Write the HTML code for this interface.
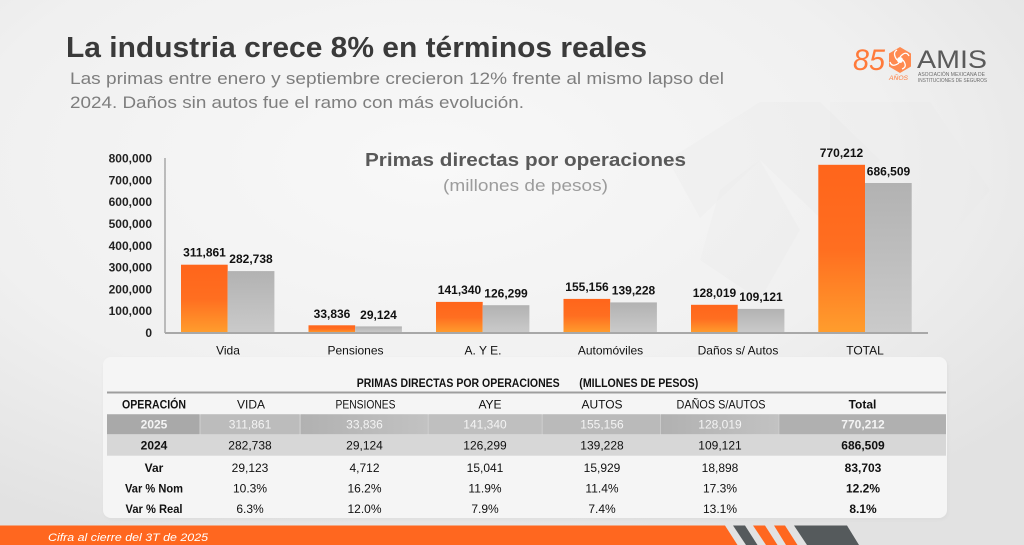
<!DOCTYPE html>
<html><head><meta charset="utf-8"><style>
html,body{margin:0;padding:0;width:1024px;height:545px;overflow:hidden;background:#eeeeee}
svg{display:block}
text{font-family:"Liberation Sans",sans-serif}
</style></head><body>
<svg width="1024" height="545" viewBox="0 0 1024 545" xmlns="http://www.w3.org/2000/svg">
<defs>
<radialGradient id="bg" cx="0.42" cy="0.3" r="0.75">
<stop offset="0" stop-color="#f8f8f8"/>
<stop offset="0.6" stop-color="#f0f0f0"/>
<stop offset="1" stop-color="#e2e2e2"/>
</radialGradient>
<linearGradient id="og" x1="0" y1="0" x2="0" y2="1">
<stop offset="0" stop-color="#ff651b"/>
<stop offset="0.5" stop-color="#ff6e20"/>
<stop offset="1" stop-color="#ff9d2d"/>
</linearGradient>
<linearGradient id="gg" x1="0" y1="0" x2="0" y2="1">
<stop offset="0" stop-color="#b2b2b2"/>
<stop offset="1" stop-color="#cacaca"/>
</linearGradient>
<linearGradient id="cellg" x1="0" y1="0" x2="1" y2="0">
<stop offset="0" stop-color="#b1b1b1"/>
<stop offset="1" stop-color="#c2c2c2"/>
</linearGradient>
<filter id="sh" x="-5%" y="-10%" width="110%" height="120%"><feGaussianBlur stdDeviation="1.5"/></filter>
</defs>
<rect width="1024" height="545" fill="url(#bg)"/>
<!-- faint decorative shapes -->
<polygon points="760,102 820,102 880,160 820,218 760,160 700,218 668,160" fill="#e9e9e9" opacity="0.25"/>
<polygon points="830,102 930,102 990,190 930,260 830,260" fill="#e6e6e6" opacity="0.22"/>
<polygon points="720,190 760,160 800,230 760,300 700,260" fill="#e8e8e8" opacity="0.2"/>

<!-- Title -->
<text x="66" y="57" font-size="29" font-weight="bold" fill="#3a3a3a" textLength="581" lengthAdjust="spacingAndGlyphs">La industria crece 8% en términos reales</text>
<text x="70" y="84" font-size="17" fill="#7e7e7e" textLength="654" lengthAdjust="spacingAndGlyphs">Las primas entre enero y septiembre crecieron 12% frente al mismo lapso del</text>
<text x="70" y="108" font-size="17" fill="#7e7e7e" textLength="454" lengthAdjust="spacingAndGlyphs">2024. Daños sin autos fue el ramo con más evolución.</text>

<!-- Logo -->
<text x="853" y="70" font-family="Liberation Serif,serif" font-style="italic" font-size="30" fill="#ff7a3a" textLength="32" lengthAdjust="spacingAndGlyphs">85</text>
<polygon points="900,47 911,53.5 911,66.5 900,73 889,66.5 889,53.5" fill="#ff8a50"/>
<circle cx="900" cy="60" r="3" fill="#fff"/>
<path d="M900 57 Q906 50 909 56 M903 60 Q908 67 902 69 M899 63 Q892 68 890 62 M897 60 Q892 53 897 50" stroke="#fff" stroke-width="1.3" fill="none"/>
<text x="889" y="80" font-size="6.5" font-style="italic" fill="#ff7a3a" textLength="19" lengthAdjust="spacingAndGlyphs">AÑOS</text>
<text x="917" y="68" font-size="25" fill="#5a5a5a" textLength="70" lengthAdjust="spacingAndGlyphs">AMIS</text>
<text x="918" y="76" font-size="5" fill="#6a6a6a" textLength="67" lengthAdjust="spacingAndGlyphs">ASOCIACIÓN MEXICANA DE</text>
<text x="918" y="82" font-size="5" fill="#6a6a6a" textLength="69" lengthAdjust="spacingAndGlyphs">INSTITUCIONES DE SEGUROS</text>

<!-- Chart title -->
<text x="365" y="166" font-size="18.5" font-weight="bold" fill="#595959" textLength="321" lengthAdjust="spacingAndGlyphs">Primas directas por operaciones</text>
<text x="443" y="191" font-size="17" fill="#9c9c9c" textLength="165" lengthAdjust="spacingAndGlyphs">(millones de pesos)</text>

<!-- Y axis labels -->
<g font-size="12" font-weight="bold" fill="#222" text-anchor="end">
<text x="152" y="162.6">800,000</text>
<text x="152" y="184.4">700,000</text>
<text x="152" y="206.2">600,000</text>
<text x="152" y="228.0">500,000</text>
<text x="152" y="249.8">400,000</text>
<text x="152" y="271.6">300,000</text>
<text x="152" y="293.4">200,000</text>
<text x="152" y="315.2">100,000</text>
<text x="152" y="337.0">0</text>
</g>

<!-- Bars -->
<rect x="181" y="264.7" width="46.7" height="68" fill="url(#og)"/>
<rect x="227.7" y="271.1" width="46.7" height="61.6" fill="url(#gg)"/>
<rect x="308.5" y="325.3" width="46.7" height="7.4" fill="url(#og)"/>
<rect x="355.2" y="326.4" width="46.7" height="6.3" fill="url(#gg)"/>
<rect x="436" y="301.9" width="46.7" height="30.8" fill="url(#og)"/>
<rect x="482.7" y="305.2" width="46.7" height="27.5" fill="url(#gg)"/>
<rect x="563.5" y="298.9" width="46.7" height="33.8" fill="url(#og)"/>
<rect x="610.2" y="302.4" width="46.7" height="30.3" fill="url(#gg)"/>
<rect x="691" y="304.8" width="46.7" height="27.9" fill="url(#og)"/>
<rect x="737.7" y="308.9" width="46.7" height="23.8" fill="url(#gg)"/>
<rect x="818.3" y="164.8" width="46.7" height="167.9" fill="url(#og)"/>
<rect x="865" y="183" width="46.7" height="149.7" fill="url(#gg)"/>

<!-- Axes -->
<line x1="165" y1="158" x2="165" y2="333" stroke="#a8a8a8" stroke-width="1.5"/>
<line x1="165" y1="333" x2="928" y2="333" stroke="#a8a8a8" stroke-width="2"/>

<!-- Value labels -->
<g font-size="12" font-weight="bold" fill="#111" text-anchor="middle">
<text x="204.5" y="256.5">311,861</text>
<text x="251" y="263">282,738</text>
<text x="332" y="318">33,836</text>
<text x="378.5" y="319">29,124</text>
<text x="459.5" y="294">141,340</text>
<text x="506" y="297.5">126,299</text>
<text x="587" y="291">155,156</text>
<text x="633.5" y="294.5">139,228</text>
<text x="714.5" y="297">128,019</text>
<text x="761" y="301">109,121</text>
<text x="841.5" y="157">770,212</text>
<text x="888.5" y="175.5">686,509</text>
</g>

<!-- Category labels -->
<g font-size="12" fill="#111" text-anchor="middle">
<text x="228" y="354.5">Vida</text>
<text x="355.5" y="354.5">Pensiones</text>
<text x="483" y="354.5">A. Y  E.</text>
<text x="610.5" y="354.5">Automóviles</text>
<text x="738" y="354.5">Daños s/ Autos</text>
<text x="865" y="354.5">TOTAL</text>
</g>

<!-- Table card -->
<rect x="104" y="359" width="844" height="161" rx="8" fill="#d8d8d8" opacity="0.6" filter="url(#sh)"/>
<rect x="103" y="357" width="844" height="161" rx="8" fill="#f5f5f5"/>
<text x="356.7" y="387" font-size="11.5" font-weight="bold" fill="#111" textLength="203" lengthAdjust="spacingAndGlyphs">PRIMAS DIRECTAS POR OPERACIONES</text>
<text x="579.3" y="387" font-size="11.5" font-weight="bold" fill="#111" textLength="119" lengthAdjust="spacingAndGlyphs">(MILLONES DE PESOS)</text>
<line x1="107" y1="392.5" x2="946" y2="392.5" stroke="#9e9e9e" stroke-width="2"/>

<!-- header -->
<g font-size="12" fill="#111" text-anchor="middle">
<text x="154" y="408.5" font-weight="bold" textLength="64" lengthAdjust="spacingAndGlyphs">OPERACIÓN</text>
<text x="251" y="408.5">VIDA</text>
<text x="365.5" y="408.5" textLength="60" lengthAdjust="spacingAndGlyphs">PENSIONES</text>
<text x="490" y="408.5">AYE</text>
<text x="602" y="408.5">AUTOS</text>
<text x="721" y="408.5" textLength="89" lengthAdjust="spacingAndGlyphs">DAÑOS S/AUTOS</text>
<text x="862.5" y="408.5" font-weight="bold">Total</text>
</g>

<!-- 2025 row -->
<rect x="107" y="414.3" width="839" height="20" fill="#cfcfcf"/>
<rect x="107" y="414.3" width="92.5" height="20" fill="#a9a9a9"/>
<rect x="200.5" y="414.3" width="99" height="20" fill="#bcbcbc"/>
<rect x="300.7" y="414.3" width="127" height="20" fill="url(#cellg)"/>
<rect x="428.7" y="414.3" width="113" height="20" fill="#bfbfbf"/>
<rect x="542.7" y="414.3" width="117.5" height="20" fill="#bababa"/>
<rect x="661" y="414.3" width="117.5" height="20" fill="url(#cellg)"/>
<rect x="779.3" y="414.3" width="166.7" height="20" fill="#b0b0b0"/>
<g font-size="12" fill="#f4f4f4" text-anchor="middle">
<text x="154" y="428.5" font-weight="bold">2025</text>
<text x="250" y="428.5">311,861</text>
<text x="364.5" y="428.5">33,836</text>
<text x="485" y="428.5">141,340</text>
<text x="602" y="428.5">155,156</text>
<text x="720" y="428.5">128,019</text>
<text x="863" y="428.5" font-weight="bold">770,212</text>
</g>

<!-- 2024 row -->
<rect x="107" y="434.3" width="839" height="21.4" fill="#d7d7d7"/>
<g font-size="12" fill="#111" text-anchor="middle">
<text x="154" y="449.5" font-weight="bold">2024</text>
<text x="250" y="449.5">282,738</text>
<text x="364.5" y="449.5">29,124</text>
<text x="485" y="449.5">126,299</text>
<text x="602" y="449.5">139,228</text>
<text x="720" y="449.5">109,121</text>
<text x="863" y="449.5" font-weight="bold">686,509</text>

<text x="154" y="471.8" font-weight="bold">Var</text>
<text x="250" y="471.8">29,123</text>
<text x="364.5" y="471.8">4,712</text>
<text x="485" y="471.8">15,041</text>
<text x="602" y="471.8">15,929</text>
<text x="720" y="471.8">18,898</text>
<text x="863" y="471.8" font-weight="bold">83,703</text>

<text x="154" y="492.5" font-weight="bold" textLength="58" lengthAdjust="spacingAndGlyphs">Var % Nom</text>
<text x="250" y="492.5">10.3%</text>
<text x="364.5" y="492.5">16.2%</text>
<text x="485" y="492.5">11.9%</text>
<text x="602" y="492.5">11.4%</text>
<text x="720" y="492.5">17.3%</text>
<text x="863" y="492.5" font-weight="bold">12.2%</text>

<text x="154" y="513.2" font-weight="bold" textLength="57" lengthAdjust="spacingAndGlyphs">Var % Real</text>
<text x="250" y="513.2">6.3%</text>
<text x="364.5" y="513.2">12.0%</text>
<text x="485" y="513.2">7.9%</text>
<text x="602" y="513.2">7.4%</text>
<text x="720" y="513.2">13.1%</text>
<text x="863" y="513.2" font-weight="bold">8.1%</text>
</g>

<!-- Footer -->
<polygon points="0,525.5 725,525.5 737.5,545 0,545" fill="#ff671f"/>
<polygon points="733,525.5 745,525.5 757.5,545 746,545" fill="#555a5c"/>
<polygon points="753,525.5 765,525.5 777.5,545 766,545" fill="#ff671f"/>
<polygon points="774,525.5 785,525.5 797.5,545 786,545" fill="#ff671f"/>
<polygon points="794,525.5 847,525.5 859,545 807,545" fill="#555a5c"/>
<text x="48" y="541" font-size="11" font-style="italic" fill="#ffffff" textLength="160" lengthAdjust="spacingAndGlyphs">Cifra al cierre del 3T de 2025</text>
</svg>
</body></html>
